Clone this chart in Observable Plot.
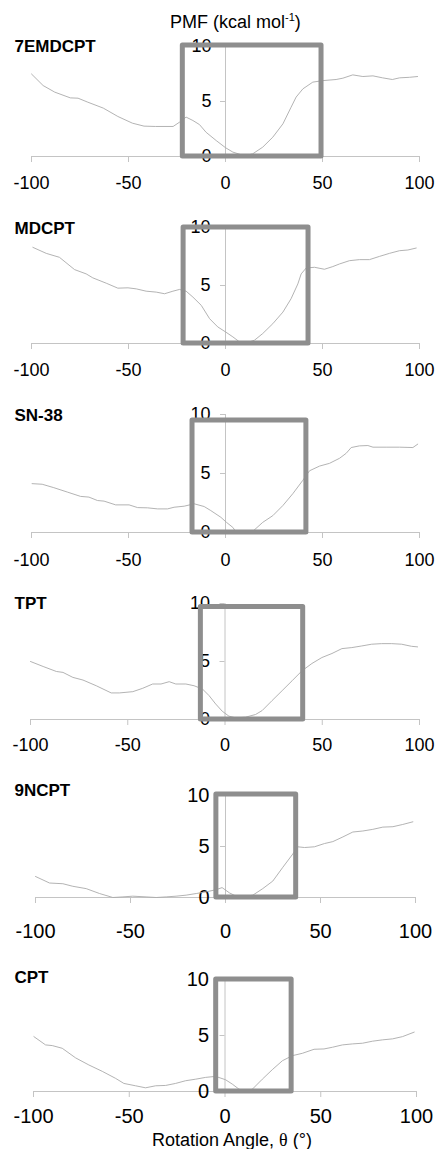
<!DOCTYPE html>
<html><head><meta charset="utf-8">
<script src="https://cdn.jsdelivr.net/npm/d3@7"></script>
<script src="https://cdn.jsdelivr.net/npm/@observablehq/plot@0.6"></script>
<style>
body{margin:0;background:#fff}
#c{position:relative;width:435px;height:1149px;overflow:hidden;font-family:"Liberation Sans",Arial,sans-serif;color:#000}
.p{position:absolute;left:0}
.t{position:absolute;white-space:nowrap;font-size:18px;line-height:18px}
</style></head><body><div id="c"></div>
<script>
// ---- data ----
const names = ["7EMDCPT","MDCPT","SN-38","TPT","9NCPT","CPT"];
const xTicks = [-100,-50,0,50,100];
const yTicks = [0,5,10];

const angle7EMDCPT = [-100,-94,-88,-80,-76,-71,-63,-55.5,-48,-42,-36,-27,-23.7,-20.3,-16.8,-13.4,-10,-4.8,0,3.8,9.8,14,19.2,24.4,29.6,33.8,36.4,39.9,45,50.2,57,60.5,65.6,70.8,76,81,86,89.7,94.8,99];
const pmf7EMDCPT = [7.5,6.45,5.85,5.33,5.3,4.94,4.4,3.64,3.03,2.76,2.73,2.73,3.12,3.58,3.27,2.9,2.2,1.45,0.8,0.4,0.06,0.24,0.85,1.76,2.97,4.48,5.4,6.15,6.76,6.9,7.0,7.12,7.42,7.27,7.33,7.15,7.0,7.15,7.2,7.27];

const angleMDCPT = [-99.3,-92.4,-85.6,-77.8,-71.8,-68.4,-61.5,-55.5,-50.3,-46,-40.9,-35.7,-31.4,-27.1,-23.7,-20.3,-16.8,-12.5,-8.2,-4,0,3.8,7.2,11.5,15,19.2,24.4,29.6,33.8,37.3,39,41.6,45.9,51,55.3,58.8,63.9,69,74.2,79.4,84.5,89.7,94,98.3];
const pmfMDCPT = [8.29,7.77,7.43,6.37,6.0,5.66,5.2,4.77,4.8,4.71,4.51,4.43,4.29,4.51,4.66,4.51,4.0,3.29,2.14,1.43,1.0,0.57,0.14,0.09,0.29,0.86,1.71,2.71,3.86,5.14,6.0,6.51,6.57,6.4,6.63,6.86,7.14,7.23,7.23,7.51,7.77,8.0,8.06,8.23];

const angleSN38 = [-99.7,-94.5,-88.5,-81.6,-74.7,-70.4,-66,-62.6,-56.6,-49.7,-45.3,-40.2,-35,-29.9,-26.5,-21.3,-16.1,-11,-7.6,-2.4,0.5,3.8,5.6,10,14,19.2,24.4,29.6,34.7,39.9,43.3,48.5,53.6,58.8,62.2,64.8,69,73.4,76,82.8,89.7,96.6,99.1];
const pmfSN38 = [4.14,4.09,3.8,3.43,3.06,3.0,2.71,2.66,2.34,2.34,2.11,2.09,2.0,2.0,2.14,2.23,2.43,2.2,1.86,1.29,0.86,0.43,0.0,0.0,0.09,0.86,1.43,2.29,3.29,4.43,5.23,5.63,5.86,6.29,6.71,7.2,7.34,7.37,7.23,7.23,7.23,7.2,7.49];

const angleTPT = [-100,-93.5,-86.7,-83.3,-78.2,-73,-66.2,-58.5,-54.3,-47.4,-42.3,-37.2,-32.9,-28.7,-25.3,-20.1,-15.9,-11.6,-8.2,-4.8,-1.4,2,5.5,10.6,15.7,19.1,24.2,29.4,34.5,39.6,44.7,49.8,55,60.1,65.2,70.3,75.4,80.5,85.7,90.8,95.9,99];
const pmfTPT = [5.0,4.57,4.14,4.06,3.63,3.4,2.91,2.29,2.29,2.4,2.69,3.06,3.06,3.26,3.06,3.06,2.91,2.63,2.06,1.34,0.71,0.29,0.14,0.2,0.43,0.77,1.63,2.49,3.34,4.2,4.83,5.34,5.69,6.11,6.2,6.34,6.49,6.54,6.54,6.49,6.31,6.26];

const angle9NCPT = [-100,-92.6,-85.6,-80.4,-73.3,-66.3,-59.3,-54,-48.8,-41.8,-36.5,-31.2,-26,-20.7,-15.4,-10.2,-4.9,-1.8,2.1,5.6,9.1,14.4,19.6,24.9,30.2,35.4,38,41.6,46.8,52.1,56.5,61.8,67,72.3,77.5,82.8,88.1,93.3,98.6];
const pmf9NCPT = [2.06,1.42,1.35,1.1,0.87,0.39,0,0.06,0.13,0.06,0,0.06,0.13,0.23,0.39,0.55,0.77,0.97,0.45,0.13,0.06,0.23,0.87,1.61,2.97,4.26,4.97,4.9,4.97,5.29,5.48,5.94,6.42,6.52,6.68,6.9,6.94,7.16,7.42];

const angleCPT = [-99.8,-93.7,-90.2,-85,-78,-71.1,-64.1,-57.1,-52.8,-46.7,-41.5,-36.2,-31,-25.8,-20.6,-15.3,-10.1,-4.9,0.3,3.8,7.3,10.8,14.3,19.5,24.7,30,35.2,40.4,46.5,51.7,56.1,61.3,66.6,71.8,77,82.2,87.5,92.7,98.8];
const pmfCPT = [4.9,4.16,4.1,3.86,3.0,2.37,1.8,1.17,0.72,0.51,0.33,0.51,0.54,0.72,0.96,1.1,1.26,1.35,1.05,0.66,0.21,0,0.21,1.1,1.95,2.75,3.2,3.41,3.77,3.8,3.95,4.16,4.25,4.31,4.49,4.61,4.7,4.9,5.3];

const angles = [angle7EMDCPT, angleMDCPT, angleSN38, angleTPT, angle9NCPT, angleCPT];
const pmfs = [pmf7EMDCPT, pmfMDCPT, pmfSN38, pmfTPT, pmf9NCPT, pmfCPT];

// highlight boxes (angle range, PMF range)
const boxLeft = [-22, -21.6, -17, -12.4, -4.8, -4.6];
const boxRight = [49.5, 42.8, 41.7, 40.2, 37.2, 34.8];
const boxTop = [10.1, 10, 9.5, 9.7, 10.1, 10];

// ---- layout (pixels) ----
const layout = [
  {y10:46,  y0:156,  xl:31, xr:419, fs:18, off:27, ldx:-14, lab:0},
  {y10:227, y0:343,  xl:31, xr:419, fs:18, off:27, ldx:-15, lab:1},
  {y10:414, y0:532,  xl:31, xr:419, fs:18, off:28, ldx:-15, lab:1},
  {y10:603, y0:719,  xl:30, xr:419, fs:18, off:26, ldx:-15, lab:0},
  {y10:795, y0:897,  xl:35, xr:415, fs:20, off:34, ldx:-16, lab:-5},
  {y10:979, y0:1091, xl:33, xr:416, fs:20, off:25, ldx:-16, lab:-2}
];

const c = document.getElementById("c");
const font = '"Liberation Sans", Arial, sans-serif';

names.forEach((name, i) => {
  const L = layout[i];
  const mt = 40, mb = 45;
  const data = angles[i].map((a, j) => ({angle: a, pmf: pmfs[i][j]}));
  const box = [{x1: boxLeft[i], x2: boxRight[i], y1: 0, y2: boxTop[i]}];
  const plot = Plot.plot({
    width: 435,
    height: (L.y0 - L.y10) + mt + mb,
    marginTop: mt, marginBottom: mb,
    marginLeft: L.xl, marginRight: 435 - L.xr,
    style: {background: "transparent", overflow: "visible", fontFamily: font, color: "#000"},
    x: {domain: [-100, 100], axis: null},
    y: {domain: [0, 10], axis: null},
    marks: [
      Plot.ruleY([0], {stroke: "#c4c4c4", strokeWidth: 1}),
      Plot.ruleX(xTicks, {y1: 0, y2: 0, insetBottom: -6, stroke: "#c4c4c4"}),
      Plot.text(xTicks, {x: d => d, y: () => 0, text: d => String(d), dy: L.off, lineAnchor: "middle", fontSize: L.fs, fill: "#000"}),
      Plot.ruleX([0], {y1: 0, y2: 10, stroke: "#c4c4c4", strokeWidth: 1}),
      Plot.ruleY(yTicks, {x1: 0, x2: 0, insetLeft: -5, stroke: "#c4c4c4"}),
      Plot.text(yTicks, {x: () => 0, y: d => d, text: d => String(d), dx: L.ldx, textAnchor: "end", lineAnchor: "middle", fontSize: L.fs, fill: "#000"}),
      Plot.line(data, {x: "angle", y: "pmf", stroke: "#aaaaaa", strokeWidth: 0.9}),
      Plot.rect(box, {x1: "x1", x2: "x2", y1: "y1", y2: "y2", fill: "none", stroke: "#8e8e8e", strokeWidth: 5, strokeLinejoin: "round"}),
      Plot.text([name], {x: () => -100, y: () => 10, text: d => d, dx: 14 - L.xl, dy: L.lab, textAnchor: "start", lineAnchor: "middle", fontSize: 17, fontWeight: "bold", fill: "#000"})
    ]
  });
  plot.classList.add("p");
  plot.style.top = (L.y10 - mt) + "px";
  c.appendChild(plot);
});

const title = document.createElement("div");
title.className = "t";
title.style.left = "170px"; title.style.top = "13px";
title.innerHTML = 'PMF (kcal mol<span style="font-size:11px;position:relative;top:-7px">-1</span>)';
c.appendChild(title);

const xl = document.createElement("div");
xl.className = "t";
xl.style.left = "152px"; xl.style.top = "1131px";
xl.innerHTML = 'Rotation Angle, <span style="font-family:\'Liberation Serif\',serif">θ</span> (°)';
c.appendChild(xl);
</script></body></html>
